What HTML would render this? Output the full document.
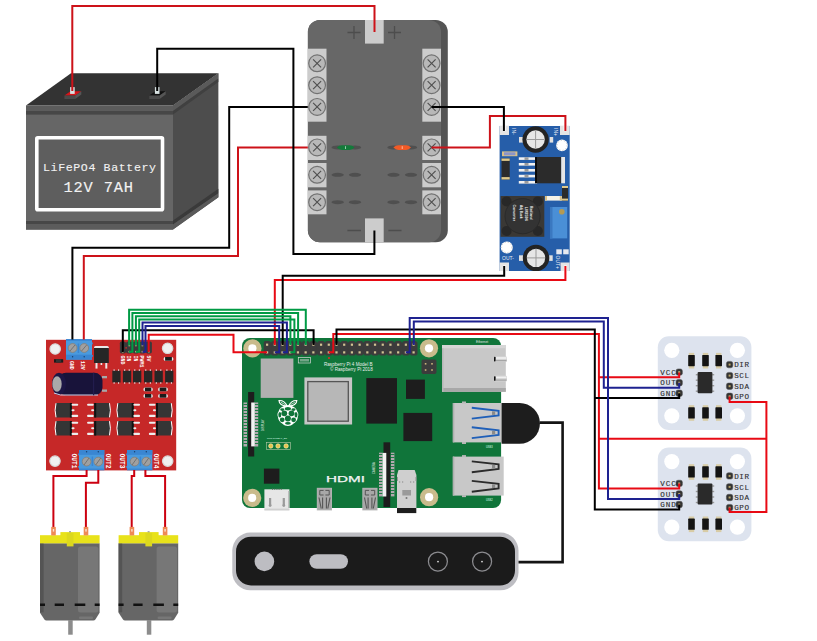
<!DOCTYPE html>
<html><head><meta charset="utf-8"><style>
html,body{margin:0;padding:0;background:#fff;width:817px;height:641px;overflow:hidden}
svg{display:block}
</style></head><body>
<svg width="817" height="641" viewBox="0 0 817 641" font-family="Liberation Sans, sans-serif">
<!-- BATTERY -->
<g id="battery">
<polygon points="26,105.6 71,73.2 218.4,73.2 173,105.6" fill="#333"/>
<polygon points="173,105.6 218.4,73.2 218.4,197.3 173,229.6" fill="#4d4d4d"/>
<polygon points="173,105.6 218.4,73.2 218.4,78.5 173,111" fill="#5a5a5a"/>
<polygon points="173,111 218.4,78.5 218.4,82 173,114.6" fill="#404040"/>
<polygon points="173,220.5 218.4,188.8 218.4,193.2 173,224.6" fill="#3a3a3a"/>
<polygon points="173,224.6 218.4,193.2 218.4,197.3 173,229.6" fill="#5a5a5a"/>
<rect x="26" y="105.6" width="147" height="124" fill="#666"/>
<rect x="26" y="105.6" width="147" height="5.4" fill="#5c5c5c"/>
<rect x="26" y="111" width="147" height="3.6" fill="#474747"/>
<rect x="26" y="221" width="147" height="3" fill="#474747"/>
<rect x="26" y="224" width="147" height="5.6" fill="#5c5c5c"/>
<rect x="36.8" y="137.8" width="125.7" height="71.9" rx="1" fill="#5e5e5e" stroke="#fff" stroke-width="3.6"/>
<text x="43" y="170.6" font-family="Liberation Mono, monospace" font-size="11.6" fill="#f2f2f2" stroke="#f2f2f2" stroke-width="0.1" textLength="113" lengthAdjust="spacing">LiFePO4 Battery</text>
<text x="63.5" y="191.8" font-family="Liberation Mono, monospace" font-size="15.4" fill="#f2f2f2" stroke="#f2f2f2" stroke-width="0.15" textLength="69.5" lengthAdjust="spacing">12V 7AH</text>
<!-- terminals -->
<polygon points="64.4,95.6 70.5,91.2 81.3,91.2 75.2,95.6" fill="#d7141a"/>
<polygon points="64.4,95.6 75.2,95.6 75.2,99 64.4,99" fill="#4a4a4a"/>
<polygon points="75.2,95.6 81.3,91.2 81.3,94.6 75.2,99" fill="#555"/>
<rect x="70.1" y="87.1" width="4.6" height="6.8" fill="#d8e2e2"/>
<polygon points="149.3,95.6 155.4,91.2 165.7,91.2 159.6,95.6" fill="#111"/>
<polygon points="149.3,95.6 159.6,95.6 159.6,99 149.3,99" fill="#4a4a4a"/>
<polygon points="159.6,95.6 165.7,91.2 165.7,94.6 159.6,99" fill="#555"/>
<rect x="154.9" y="87.1" width="4.6" height="6.8" fill="#d8e2e2"/>
</g>

<!-- FUSE BOX -->
<g id="fuse">
<rect x="307.9" y="20" width="139.9" height="222.2" rx="12" fill="#545454"/>
<rect x="307.9" y="20" width="133.1" height="222.2" rx="12" fill="#676767"/>
<rect x="365" y="20" width="18.7" height="23.6" fill="#ccc"/>
<rect x="365" y="218.4" width="18.7" height="23.9" fill="#ccc"/>
<path d="M347.5,32.5h13M354,26v13M388,32.5h13M394.5,26v13M347.4,230.5h13.6M388.4,230.5h13.1" stroke="#4d4d4d" stroke-width="1.3" fill="none"/>
<rect x="307.8" y="48.7" width="18.7" height="73" fill="#ccc"/>
<rect x="422.3" y="48.7" width="18.7" height="73" fill="#ccc"/>
<rect x="307.8" y="135.8" width="18.7" height="24.2" fill="#ccc"/>
<rect x="307.8" y="163" width="18.7" height="24.3" fill="#ccc"/>
<rect x="307.8" y="190.4" width="18.7" height="23.9" fill="#ccc"/>
<rect x="422.3" y="135.8" width="18.7" height="24.2" fill="#ccc"/>
<rect x="422.3" y="163" width="18.7" height="24.3" fill="#ccc"/>
<rect x="422.3" y="190.4" width="18.7" height="23.9" fill="#ccc"/>
<g fill="#b8b8b8" stroke="#727272" stroke-width="1.2">
<circle cx="317.1" cy="63.3" r="8.4"/><circle cx="317.1" cy="85.2" r="8.4"/><circle cx="317.1" cy="106.9" r="8.4"/>
<circle cx="317.1" cy="147.4" r="8.4"/><circle cx="317.1" cy="174.8" r="8.4"/><circle cx="317.1" cy="202.2" r="8.4"/>
<circle cx="431.6" cy="63.3" r="8.4"/><circle cx="431.6" cy="85.2" r="8.4"/><circle cx="431.6" cy="106.9" r="8.4"/>
<circle cx="431.6" cy="147.4" r="8.4"/><circle cx="431.6" cy="174.8" r="8.4"/><circle cx="431.6" cy="202.2" r="8.4"/>
</g>
<path id="xs" d="M313.1,59.3l8,8M321.1,59.3l-8,8M313.1,81.2l8,8M321.1,81.2l-8,8M313.1,102.9l8,8M321.1,102.9l-8,8M313.1,143.4l8,8M321.1,143.4l-8,8M313.1,170.8l8,8M321.1,170.8l-8,8M313.1,198.2l8,8M321.1,198.2l-8,8M427.6,59.3l8,8M435.6,59.3l-8,8M427.6,81.2l8,8M435.6,81.2l-8,8M427.6,102.9l8,8M435.6,102.9l-8,8M427.6,143.4l8,8M435.6,143.4l-8,8M427.6,170.8l8,8M435.6,170.8l-8,8M427.6,198.2l8,8M435.6,198.2l-8,8" stroke="#505050" stroke-width="1.15" fill="none"/>
<g fill="#4f4f4f">
<ellipse cx="337.7" cy="147.4" rx="6.2" ry="2"/><ellipse cx="355" cy="147.4" rx="6.2" ry="2"/><ellipse cx="393.5" cy="147.4" rx="6.2" ry="2"/><ellipse cx="411" cy="147.4" rx="6.2" ry="2"/>
<ellipse cx="337.7" cy="174.8" rx="6.2" ry="2"/><ellipse cx="355" cy="174.8" rx="6.2" ry="2"/><ellipse cx="393.5" cy="174.8" rx="6.2" ry="2"/><ellipse cx="411" cy="174.8" rx="6.2" ry="2"/>
<ellipse cx="337.7" cy="202.2" rx="6.2" ry="2"/><ellipse cx="355" cy="202.2" rx="6.2" ry="2"/><ellipse cx="393.5" cy="202.2" rx="6.2" ry="2"/><ellipse cx="411" cy="202.2" rx="6.2" ry="2"/>
</g>
<path d="M336.8,147.6Q339,145.2 342,145.2H349.5Q352.5,145.2 354.6,147.6Q352.5,150 349.5,150H342Q339,150 336.8,147.6Z" fill="#137a3a"/><rect x="345.3" y="146.2" width="0.7" height="2.8" fill="#cfe8d8"/>
<path d="M393.4,147.6Q395.6,145.2 398.6,145.2H406Q409,145.2 411,147.6Q409,150 406,150H398.6Q395.6,150 393.4,147.6Z" fill="#f25a26"/><rect x="401.8" y="146.2" width="0.7" height="2.8" fill="#fde0d0"/>
</g>
<!--BUCK-->
<g id="buck">
<rect x="499.6" y="126" width="70.1" height="145" fill="#265ea9"/>
<rect x="499.6" y="125.7" width="9.4" height="9.3" fill="#e4e4e4"/>
<rect x="560" y="125.7" width="9.7" height="9.3" fill="#e4e4e4"/>
<rect x="499.6" y="262.5" width="9.4" height="8.5" fill="#e4e4e4"/>
<rect x="560.6" y="262.5" width="9.1" height="8.5" fill="#e4e4e4"/>
<rect x="502.5" y="125.7" width="3.2" height="5.5" fill="#fff"/>
<rect x="563.6" y="125.7" width="3.2" height="5.5" fill="#fff"/>
<rect x="503" y="265.5" width="3" height="5.5" fill="#fff"/>
<rect x="563.9" y="265.5" width="3" height="5.5" fill="#fff"/>
<!-- top terminal -->
<rect x="519" y="137" width="4" height="5.6" fill="#e0e0e0"/>
<rect x="549.7" y="137" width="3.5" height="5.6" fill="#e0e0e0"/>
<circle cx="535.6" cy="139.5" r="13.2" fill="#232323"/>
<circle cx="535.6" cy="139.5" r="9.2" fill="#e6e6e6"/>
<path d="M535.6,130.5v18M526.6,139.5h18" stroke="#9a9a9a" stroke-width="1"/>
<circle cx="562" cy="145.4" r="5.8" fill="#fff"/><circle cx="562" cy="145.4" r="5" fill="none" stroke="#b8b8b8" stroke-width="0.9" stroke-dasharray="1 2.1"/>
<!-- resistor -->
<rect x="502" y="151.4" width="15.4" height="4.8" fill="#d8c089"/>
<rect x="504" y="152.3" width="11.4" height="3" fill="#8b95c9"/>
<!-- cap -->
<rect x="501.5" y="158.5" width="8.2" height="21" fill="#2b2b2b"/>
<rect x="501.5" y="158.5" width="8.2" height="2.4" fill="#e0c98a"/>
<rect x="501.5" y="177.1" width="8.2" height="2.4" fill="#e0c98a"/>
<!-- LM2596 -->
<g fill="#f2f2f2">
<rect x="518.8" y="157.3" width="18.5" height="2.6"/><rect x="518.8" y="163" width="18.5" height="2.6"/><rect x="518.8" y="169" width="18.5" height="2.6"/><rect x="518.8" y="174.8" width="18.5" height="2.6"/><rect x="518.8" y="181" width="18.5" height="2.6"/>
</g>
<g fill="#9a9a9a">
<rect x="524.5" y="157.3" width="4" height="2.6"/><rect x="524.5" y="163" width="4" height="2.6"/><rect x="524.5" y="169" width="4" height="2.6"/><rect x="524.5" y="174.8" width="4" height="2.6"/><rect x="524.5" y="181" width="4" height="2.6"/>
</g>
<rect x="535" y="157" width="2.5" height="26.3" fill="#0a0a0a"/>
<rect x="537" y="157" width="24.5" height="26.3" fill="#2b2b2b"/>
<rect x="561.2" y="157" width="3.8" height="26.3" fill="#e6e6e6"/>
<!-- small parts -->
<rect x="562" y="186" width="6" height="14.6" fill="#2b2b2b"/>
<rect x="562" y="186" width="6" height="2" fill="#e0c98a"/>
<rect x="562" y="198.6" width="6" height="2" fill="#e0c98a"/>
<rect x="545" y="196" width="16.8" height="4.6" fill="#f5f2e6"/>
<rect x="545" y="196" width="2" height="4.6" fill="#d8c089"/>
<rect x="559.8" y="196" width="2" height="4.6" fill="#d8c089"/>
<!-- inductor -->
<rect x="500.6" y="196" width="43.7" height="40.8" fill="#3a3835"/>
<g fill="#282828"><circle cx="506.6" cy="201.4" r="5"/><circle cx="537.8" cy="201.4" r="5"/><circle cx="506.6" cy="231" r="5"/><circle cx="537.8" cy="231" r="5"/></g>
<circle cx="522.6" cy="216.2" r="17.6" fill="#333" stroke="#2a2a2a" stroke-width="1"/>
<g font-size="4" font-weight="bold" fill="#f0f0f0">
<text transform="translate(530.4,206) rotate(90)" textLength="13.5" lengthAdjust="spacingAndGlyphs">Redland</text>
<text transform="translate(524.9,206.8) rotate(90)" textLength="14" lengthAdjust="spacingAndGlyphs">LM2596</text>
<text transform="translate(519.5,204.9) rotate(90)" textLength="13.6" lengthAdjust="spacingAndGlyphs">Adj Buck</text>
<text transform="translate(512.8,204.5) rotate(90)" textLength="16.5" lengthAdjust="spacingAndGlyphs">Converter</text>
</g>
<!-- pot -->
<rect x="550" y="207" width="17.2" height="31.4" fill="#4a8fd6"/>
<rect x="550" y="207" width="2.5" height="31.4" fill="#3a78c0"/>
<circle cx="561.8" cy="211.8" r="2.8" fill="#b59a52"/>
<!-- bottom -->
<circle cx="506.8" cy="247.4" r="6" fill="#fff"/><circle cx="506.8" cy="247.4" r="5.2" fill="none" stroke="#b8b8b8" stroke-width="0.9" stroke-dasharray="1 2.1"/>
<rect x="556.3" y="249.3" width="5.5" height="5" fill="#e6e9f0"/>
<rect x="563.2" y="249.3" width="5.5" height="5" fill="#e6e9f0"/>
<rect x="519" y="255.3" width="4" height="5.6" fill="#e0e0e0"/>
<rect x="549.2" y="255.3" width="3.5" height="5.6" fill="#e0e0e0"/>
<circle cx="536" cy="257.9" r="13.2" fill="#232323"/>
<circle cx="536" cy="257.9" r="9.2" fill="#e6e6e6"/>
<path d="M536,248.9v18M527,257.9h18" stroke="#9a9a9a" stroke-width="1"/>
<text x="502" y="260" font-size="5" fill="#e8ecf5">OUT-</text>
<text transform="translate(556,255.5) rotate(90)" font-size="5" fill="#e8ecf5">OUT+</text>
<text transform="translate(512,128) rotate(90)" font-size="5" fill="#e8ecf5">IN-</text>
<text transform="translate(554,128) rotate(90)" font-size="5" fill="#e8ecf5">IN+</text>
</g>
<!--DRIVER-->
<g id="driver">
<rect x="46" y="339.8" width="130.2" height="130.6" fill="#c62828"/>
<g fill="#f0f0f0" stroke="#d9d9d9" stroke-width="1.2">
<circle cx="55.2" cy="349" r="5.2"/><circle cx="167.6" cy="348.3" r="5.2"/><circle cx="55" cy="461.1" r="5.2"/><circle cx="167.7" cy="461.1" r="5.2"/>
</g>
<!-- top terminal -->
<rect x="66" y="339.2" width="26" height="20.4" fill="#4a9ade"/>
<rect x="66" y="339.2" width="26" height="1.6" fill="#3a86d2"/>
<rect x="66" y="354.7" width="26" height="4.9" fill="#3a86d2"/>
<rect x="92" y="342.5" width="0.9" height="1.8" fill="#3a86d2"/><rect x="92" y="355" width="0.9" height="1.8" fill="#3a86d2"/>
<rect x="77.7" y="343.5" width="1.4" height="9.5" fill="#3a86d2"/>
<circle cx="72.6" cy="348" r="4.4" fill="#a0a0a0" stroke="#8a7a6a" stroke-width="0.7"/>
<circle cx="84.2" cy="348" r="4.4" fill="#a0a0a0" stroke="#8a7a6a" stroke-width="0.7"/>
<path d="M70,351l5,-6M81.6,351l5,-6" stroke="#666" stroke-width="0.8"/>
<circle cx="72.6" cy="356.8" r="0.7" fill="#173f6b"/><circle cx="84.2" cy="356.8" r="0.7" fill="#173f6b"/>
<text transform="translate(69.8,361) rotate(90)" font-size="4.8" font-weight="bold" fill="#fff" font-family="Liberation Mono, monospace">GND</text>
<text transform="translate(81.4,361) rotate(90)" font-size="4.8" font-weight="bold" fill="#fff" font-family="Liberation Mono, monospace">12V</text>
<rect x="54" y="359.2" width="9.2" height="3.4" fill="#1a1a1a"/>
<rect x="56" y="359.2" width="5.2" height="3.4" fill="#333"/>
<!-- regulator -->
<rect x="94" y="346" width="14.8" height="3" rx="1.5" fill="#e8e8e8"/>
<rect x="94" y="348" width="14.8" height="15" fill="#262626"/>
<rect x="95.5" y="363" width="2" height="5.6" fill="#e8e8e8"/>
<rect x="105.3" y="363" width="2" height="5.6" fill="#e8e8e8"/>
<rect x="100.6" y="363" width="1.6" height="2" fill="#e8e8e8"/>
<!-- capacitor -->
<rect x="102" y="376" width="5" height="2.3" fill="#a8a8a8"/>
<rect x="102" y="389.5" width="5" height="2.3" fill="#a8a8a8"/>
<rect x="58" y="372.8" width="44.5" height="22.5" rx="8" fill="#18133a"/>
<ellipse cx="59" cy="384" rx="7" ry="11.2" fill="#1c1645"/>
<ellipse cx="57" cy="384" rx="4.7" ry="7.8" fill="#aaa"/>
<path d="M54,393q6,3 14,2h30" stroke="#c9d3ea" stroke-width="1" fill="none"/>
<rect x="93" y="372.8" width="1.2" height="22.5" fill="#221c4d"/>
<!-- six ICs -->
<rect x="112.3" y="370.6" width="8.3" height="11.9" fill="#262626"/><g fill="#e6e6e6"><rect x="113.6" y="369.3" width="1" height="1.6"/><rect x="118.1" y="369.3" width="1" height="1.6"/><rect x="113.6" y="382.2" width="1" height="1.6"/><rect x="118.1" y="382.2" width="1" height="1.6"/></g>
<rect x="122.9" y="370.6" width="8.3" height="11.9" fill="#262626"/><g fill="#e6e6e6"><rect x="124.2" y="369.3" width="1" height="1.6"/><rect x="128.70000000000002" y="369.3" width="1" height="1.6"/><rect x="124.2" y="382.2" width="1" height="1.6"/><rect x="128.70000000000002" y="382.2" width="1" height="1.6"/></g>
<rect x="133" y="370.6" width="8.3" height="11.9" fill="#262626"/><g fill="#e6e6e6"><rect x="134.3" y="369.3" width="1" height="1.6"/><rect x="138.8" y="369.3" width="1" height="1.6"/><rect x="134.3" y="382.2" width="1" height="1.6"/><rect x="138.8" y="382.2" width="1" height="1.6"/></g>
<rect x="144" y="370.6" width="8.3" height="11.9" fill="#262626"/><g fill="#e6e6e6"><rect x="145.3" y="369.3" width="1" height="1.6"/><rect x="149.8" y="369.3" width="1" height="1.6"/><rect x="145.3" y="382.2" width="1" height="1.6"/><rect x="149.8" y="382.2" width="1" height="1.6"/></g>
<rect x="154.5" y="370.6" width="8.3" height="11.9" fill="#262626"/><g fill="#e6e6e6"><rect x="155.8" y="369.3" width="1" height="1.6"/><rect x="160.3" y="369.3" width="1" height="1.6"/><rect x="155.8" y="382.2" width="1" height="1.6"/><rect x="160.3" y="382.2" width="1" height="1.6"/></g>
<rect x="165.1" y="370.6" width="8.3" height="11.9" fill="#262626"/><g fill="#e6e6e6"><rect x="166.4" y="369.3" width="1" height="1.6"/><rect x="170.9" y="369.3" width="1" height="1.6"/><rect x="166.4" y="382.2" width="1" height="1.6"/><rect x="170.9" y="382.2" width="1" height="1.6"/></g>
<rect x="143.5" y="387.6" width="9.2" height="3.7" rx="1.5" fill="#eee"/><rect x="144.9" y="387.6" width="6.3999999999999995" height="3.7" fill="#1a1a1a"/>
<rect x="158.2" y="387.6" width="9.6" height="3.7" rx="1.5" fill="#eee"/><rect x="159.6" y="387.6" width="6.8" height="3.7" fill="#1a1a1a"/>
<rect x="143.5" y="394" width="9.2" height="3.7" rx="1.5" fill="#eee"/><rect x="144.9" y="394" width="6.3999999999999995" height="3.7" fill="#1a1a1a"/>
<rect x="158.2" y="394" width="9.6" height="3.7" rx="1.5" fill="#eee"/><rect x="159.6" y="394" width="6.8" height="3.7" fill="#1a1a1a"/>
<rect x="163.7" y="357" width="9.6" height="3.7" rx="1.5" fill="#eee"/><rect x="165.1" y="357" width="6.8" height="3.7" fill="#1a1a1a"/>
<!-- header -->
<rect x="120.5" y="342.6" width="30.8" height="9.8" fill="#3a3a3a"/><g fill="#3a3a3a"><rect x="119.85" y="341.6" width="5.9" height="11.8" rx="1.6"/><rect x="126.35" y="341.6" width="5.9" height="11.8" rx="1.6"/><rect x="132.95" y="341.6" width="5.9" height="11.8" rx="1.6"/><rect x="139.45" y="341.6" width="5.9" height="11.8" rx="1.6"/><rect x="145.95" y="341.6" width="5.9" height="11.8" rx="1.6"/></g>
<g fill="#c7b27a"><rect x="128.50" y="344.7" width="1.6" height="1.6"/><rect x="135.10" y="344.7" width="1.6" height="1.6"/><rect x="141.60" y="344.7" width="1.6" height="1.6"/><rect x="122.00" y="350.9" width="1.6" height="1.6"/><rect x="128.50" y="350.9" width="1.6" height="1.6"/><rect x="135.10" y="350.9" width="1.6" height="1.6"/><rect x="141.60" y="350.9" width="1.6" height="1.6"/><rect x="148.10" y="350.9" width="1.6" height="1.6"/></g><circle cx="126.1" cy="347.9" r="0.8" fill="#d22"/>
<g font-size="4.9" font-weight="bold" fill="#fff" font-family="Liberation Mono, monospace">
<text transform="translate(120.6,355.6) rotate(90)">GND</text>
<text transform="translate(127.2,355.6) rotate(90)">IN</text>
<text transform="translate(133.7,355.6) rotate(90)">IN</text>
<text transform="translate(140.3,355.6) rotate(90)">PWM1</text>
<text transform="translate(146.5,355.6) rotate(90)">5V</text>
</g>
<!-- mosfets -->
<g id="mos">
<path d="M56,403h15.9v14.5h-15.9q-1.6-7.25 0-14.5z" fill="#353535"/>
<path d="M56,403.2q-1.8,7 0,14.1" stroke="#fff" stroke-width="1" fill="none"/>
<rect x="69.9" y="403" width="2" height="14.5" fill="#111"/>
<g stroke="#eee" stroke-width="2.1" stroke-linecap="round"><path d="M72.6,404.8h4.6M72.6,410.3h0.9M72.6,415.9h4.6"/></g>
<path d="M94.2,403h15.3q1.6,7.25 0,14.5h-15.3z" fill="#353535"/>
<path d="M109.5,403.2q1.8,7 0,14.1" stroke="#fff" stroke-width="1" fill="none"/>
<rect x="94.2" y="403" width="2" height="14.5" fill="#111"/>
<g stroke="#eee" stroke-width="2.1" stroke-linecap="round"><path d="M88.1,404.8h4.6M92.2,410.3h0.9M88.1,415.9h4.6"/></g>
</g>
<use href="#mos" transform="translate(0,18)"/>
<use href="#mos" transform="translate(61.8,0)"/>
<use href="#mos" transform="translate(61.8,18)"/>
<!-- bottom terminals -->
<g id="bterm">
<rect x="79" y="450" width="25.3" height="20.2" fill="#4a9ade"/>
<rect x="79" y="450" width="25.3" height="4.8" fill="#3a86d2"/>
<rect x="79" y="468.6" width="25.3" height="1.6" fill="#3a86d2"/>
<rect x="78.1" y="453.5" width="0.9" height="1.8" fill="#3a86d2"/><rect x="78.1" y="466" width="0.9" height="1.8" fill="#3a86d2"/>
<rect x="91.7" y="456.5" width="1.4" height="9.5" fill="#3a86d2"/>
<circle cx="86.6" cy="461.6" r="4.4" fill="#a0a0a0" stroke="#8a7a6a" stroke-width="0.7"/>
<circle cx="98.3" cy="461.6" r="4.4" fill="#a0a0a0" stroke="#8a7a6a" stroke-width="0.7"/>
<path d="M84,465l5,-7M95.7,465l5,-7" stroke="#666" stroke-width="0.8"/>
<circle cx="86.6" cy="451.8" r="0.7" fill="#173f6b"/><circle cx="98.3" cy="451.8" r="0.7" fill="#173f6b"/>
</g>
<use href="#bterm" transform="translate(48,0)"/>
<g font-size="6.4" font-weight="bold" fill="#fff" font-family="Liberation Mono, monospace">
<text transform="translate(72,453.5) rotate(90)" textLength="15" lengthAdjust="spacingAndGlyphs">OUT1</text>
<text transform="translate(105.7,453.5) rotate(90)" textLength="15" lengthAdjust="spacingAndGlyphs">OUT2</text>
<text transform="translate(120,453.5) rotate(90)" textLength="15" lengthAdjust="spacingAndGlyphs">OUT3</text>
<text transform="translate(153.7,453.5) rotate(90)" textLength="15" lengthAdjust="spacingAndGlyphs">OUT4</text>
</g>
</g>
<!--PI-->
<g id="pi">
<rect x="242" y="338" width="259.1" height="170" rx="8" fill="#10753a"/>
<!-- ethernet -->
<rect x="442" y="345" width="63.8" height="46.8" fill="#c8c8c8"/>
<rect x="442" y="388" width="63.8" height="3.8" fill="#a8a8a8"/>
<rect x="442" y="345" width="1.5" height="46.8" fill="#b8b8b8"/>
<rect x="442" y="345" width="63.8" height="3.2" fill="#d6d6d6"/>
<g><rect x="494.2" y="356.2" width="12.8" height="5.8" rx="1.5" fill="#d4d4d4"/><rect x="496" y="357.2" width="10.5" height="1.6" fill="#f0f0f0"/><rect x="496" y="360.2" width="10.5" height="1" fill="#9a9a9a"/><rect x="494" y="356.8" width="1.6" height="4.6" rx="0.6" fill="#111"/></g>
<g><rect x="494.2" y="375.6" width="12.8" height="5.8" rx="1.5" fill="#d4d4d4"/><rect x="496" y="376.6" width="10.5" height="1.6" fill="#f0f0f0"/><rect x="496" y="379.6" width="10.5" height="1" fill="#9a9a9a"/><rect x="494" y="376.2" width="1.6" height="4.6" rx="0.6" fill="#111"/></g>
<text x="476" y="342.5" font-size="3.2" fill="#e8e8e8">Ethernet</text>
<!-- holes -->
<g fill="#c9bb8c">
<circle cx="252.4" cy="348.4" r="9.15"/><circle cx="429" cy="348.3" r="9.1"/><circle cx="252.2" cy="497.9" r="9.1"/><circle cx="429.1" cy="497.2" r="9.1"/>
</g>
<g fill="#fff">
<circle cx="252.4" cy="348.4" r="4.1"/><circle cx="429" cy="348.3" r="4.1"/><circle cx="252.2" cy="497.9" r="4.1"/><circle cx="429.1" cy="497.2" r="4.1"/>
</g>
<!-- GPIO header -->
<rect x="263.9" y="342.4" width="153.6" height="12" fill="#3c3c3c"/><g fill="#3c3c3c"><rect x="263.75" y="341.1" width="6.7" height="14.5" rx="1.6"/><rect x="271.46" y="341.1" width="6.7" height="14.5" rx="1.6"/><rect x="279.17" y="341.1" width="6.7" height="14.5" rx="1.6"/><rect x="286.88" y="341.1" width="6.7" height="14.5" rx="1.6"/><rect x="294.59" y="341.1" width="6.7" height="14.5" rx="1.6"/><rect x="302.30" y="341.1" width="6.7" height="14.5" rx="1.6"/><rect x="310.01" y="341.1" width="6.7" height="14.5" rx="1.6"/><rect x="317.72" y="341.1" width="6.7" height="14.5" rx="1.6"/><rect x="325.43" y="341.1" width="6.7" height="14.5" rx="1.6"/><rect x="333.14" y="341.1" width="6.7" height="14.5" rx="1.6"/><rect x="340.85" y="341.1" width="6.7" height="14.5" rx="1.6"/><rect x="348.56" y="341.1" width="6.7" height="14.5" rx="1.6"/><rect x="356.27" y="341.1" width="6.7" height="14.5" rx="1.6"/><rect x="363.98" y="341.1" width="6.7" height="14.5" rx="1.6"/><rect x="371.69" y="341.1" width="6.7" height="14.5" rx="1.6"/><rect x="379.40" y="341.1" width="6.7" height="14.5" rx="1.6"/><rect x="387.11" y="341.1" width="6.7" height="14.5" rx="1.6"/><rect x="394.82" y="341.1" width="6.7" height="14.5" rx="1.6"/><rect x="402.53" y="341.1" width="6.7" height="14.5" rx="1.6"/><rect x="410.24" y="341.1" width="6.7" height="14.5" rx="1.6"/></g>
<g id="pinrow" fill="#d2c493"><rect x="266.00" y="343.6" width="2.2" height="2.2"/><rect x="273.71" y="343.6" width="2.2" height="2.2"/><rect x="281.42" y="343.6" width="2.2" height="2.2"/><rect x="289.13" y="343.6" width="2.2" height="2.2"/><rect x="296.84" y="343.6" width="2.2" height="2.2"/><rect x="304.55" y="343.6" width="2.2" height="2.2"/><rect x="312.26" y="343.6" width="2.2" height="2.2"/><rect x="319.97" y="343.6" width="2.2" height="2.2"/><rect x="327.68" y="343.6" width="2.2" height="2.2"/><rect x="335.39" y="343.6" width="2.2" height="2.2"/><rect x="343.10" y="343.6" width="2.2" height="2.2"/><rect x="350.81" y="343.6" width="2.2" height="2.2"/><rect x="358.52" y="343.6" width="2.2" height="2.2"/><rect x="366.23" y="343.6" width="2.2" height="2.2"/><rect x="373.94" y="343.6" width="2.2" height="2.2"/><rect x="381.65" y="343.6" width="2.2" height="2.2"/><rect x="389.36" y="343.6" width="2.2" height="2.2"/><rect x="397.07" y="343.6" width="2.2" height="2.2"/><rect x="404.78" y="343.6" width="2.2" height="2.2"/><rect x="412.49" y="343.6" width="2.2" height="2.2"/></g>
<use href="#pinrow" transform="translate(0,7.7)"/>
<rect x="298.3" y="357.5" width="12.3" height="5.5" fill="none" stroke="#d8d8d8" stroke-width="0.7"/>
<rect x="300" y="359" width="9" height="2.5" fill="#d8d8d8" opacity="0.5"/>
<circle cx="329" cy="358" r="1" fill="#e22"/>
<text x="324" y="365.6" font-size="4.6" fill="#e8f0ea">Raspberry Pi 4 Model B</text>
<text x="330" y="370.8" font-size="4.6" fill="#e8f0ea">© Raspberry Pi 2018</text>
<!-- PoE -->
<rect x="421.5" y="359.6" width="15" height="14.4" rx="2" fill="#3c3c3c"/>
<g fill="#c9b47a"><rect x="424.8" y="363" width="1.6" height="1.6"/><rect x="431.2" y="363" width="1.6" height="1.6"/><rect x="424.8" y="369.2" width="1.6" height="1.6"/><rect x="431.2" y="369.2" width="1.6" height="1.6"/></g>
<!-- wifi -->
<rect x="260.7" y="358.5" width="32.7" height="39.4" fill="#b0b0b0"/>
<!-- SoC -->
<rect x="304.4" y="377.4" width="47.7" height="47.1" fill="#c6c6c6"/>
<rect x="307.8" y="381.6" width="40.5" height="39.6" fill="#b7b7b7" stroke="#555" stroke-width="1.3"/>
<!-- RAM + chips -->
<rect x="366.3" y="378.1" width="30.7" height="45.5" fill="#1d1d1d"/>
<rect x="406" y="379.6" width="18.9" height="19.3" fill="#1d1d1d"/>
<rect x="403.4" y="412.9" width="28.8" height="28.2" fill="#1d1d1d"/>
<rect x="263.9" y="468.6" width="15.5" height="15.1" fill="#1d1d1d"/>
<!-- raspberry logo -->
<g fill="none" stroke="#fff" stroke-width="1.2">
<path d="M287,405.8c-1.5-3.5-4.5-5.5-8-5.3c0,3.2 3.2,5.8 8,5.3zM288.8,405.8c1.5-3.5 4.5-5.5 8-5.3c0,3.2-3.2,5.8-8,5.3z"/>
<path d="M281,402.3l4.5,2.5M294.8,402.3l-4.5,2.5" stroke-width="0.7"/>
</g>
<path d="M287.9,405.3c-4,0-8.5,2.5-9.2,6c-1.3,1.2-1.6,3.8-0.7,5.6c0.2,3 2,5.5 4.5,6.8c1.4,1.5 3.5,2.2 5.4,2.2s4-0.7 5.4-2.2c2.5-1.3 4.3-3.8 4.5-6.8c0.9-1.8 0.6-4.4-0.7-5.6c-0.7-3.5-5.2-6-9.2-6z" fill="#fff"/>
<g fill="#10753a">
<ellipse cx="287.9" cy="408.7" rx="3.1" ry="1.7"/>
<ellipse cx="282.3" cy="409.6" rx="2.1" ry="1.3"/><ellipse cx="293.5" cy="409.6" rx="2.1" ry="1.3"/>
<circle cx="284.3" cy="413.3" r="2.9"/><circle cx="291.5" cy="413.3" r="2.9"/>
<ellipse cx="279.8" cy="414.8" rx="1.5" ry="2.8"/><ellipse cx="296" cy="414.8" rx="1.5" ry="2.8"/>
<circle cx="287.9" cy="418.4" r="3"/>
<circle cx="282.2" cy="419.8" r="2.4"/><circle cx="293.6" cy="419.8" r="2.4"/>
<ellipse cx="287.9" cy="423.3" rx="2.9" ry="1.4"/>
</g>
<!-- display connector -->
<g fill="#b3a9b0">
<rect x="243.5" y="402.5" width="3.5" height="44"/><rect x="254.7" y="402.5" width="3.5" height="44"/>
</g>
<g stroke="#10753a" stroke-width="0.9">
<path d="M243.5,404.5h15M243.5,407.5h15M243.5,410.5h15M243.5,413.5h15M243.5,416.5h15M243.5,419.5h15M243.5,422.5h15M243.5,425.5h15M243.5,428.5h15M243.5,431.5h15M243.5,434.5h15M243.5,437.5h15M243.5,440.5h15M243.5,443.5h15"/>
</g>
<rect x="248.1" y="392" width="6.1" height="64.5" fill="#1d1d1d"/>
<rect x="251.2" y="402.5" width="3.6" height="43.9" fill="#f2f2f2"/>
<text transform="translate(263.6,431) rotate(-90)" font-size="2.8" fill="#e6f2ea">DISPLAY</text>
<!-- camera connector -->
<g fill="#b3a9b0">
<rect x="379" y="452.7" width="3.5" height="43.7"/><rect x="390.9" y="452.7" width="3.5" height="43.7"/>
</g>
<g stroke="#10753a" stroke-width="0.9">
<path d="M379,454.5h15.4M379,457.5h15.4M379,460.5h15.4M379,463.5h15.4M379,466.5h15.4M379,469.5h15.4M379,472.5h15.4M379,475.5h15.4M379,478.5h15.4M379,481.5h15.4M379,484.5h15.4M379,487.5h15.4M379,490.5h15.4M379,493.5h15.4"/>
</g>
<rect x="383.5" y="442.3" width="6.7" height="64.7" fill="#1d1d1d"/>
<rect x="382.5" y="452.9" width="3.8" height="43.6" fill="#f2f2f2"/>
<text transform="translate(374.8,474) rotate(-90)" font-size="2.8" fill="#e6f2ea">CAMERA</text>
<!-- run header -->
<rect x="266.3" y="442.3" width="24.3" height="7.1" fill="none" stroke="#b7c9a8" stroke-width="0.6"/>
<g fill="#e6c44a" stroke="#fff3c0" stroke-width="0.6"><circle cx="270.8" cy="446" r="2.2"/><circle cx="278" cy="446" r="2.2"/><circle cx="286.1" cy="446" r="2.2"/></g>
<text x="267" y="439" font-size="2.4" fill="#dfe">RUN   GLOBAL_EN</text>
<!-- HDMI text -->
<text x="326" y="482.1" font-size="9.7" fill="#f4f4f4" stroke="#f4f4f4" stroke-width="0.25" textLength="38.9" lengthAdjust="spacingAndGlyphs">HDMI</text>
<!-- micro usb -->
<rect x="264.4" y="489.3" width="25" height="21.1" fill="#e6e6e6"/>
<rect x="264.4" y="508.6" width="25" height="1.8" fill="#cfcfcf"/>
<rect x="288" y="491" width="1.4" height="17" fill="#bdbdbd"/>
<g fill="#666"><rect x="272" y="488.6" width="1" height="1.2"/><rect x="274.2" y="488.6" width="1" height="1.2"/><rect x="276.4" y="488.6" width="1" height="1.2"/><rect x="278.6" y="488.6" width="1" height="1.2"/><rect x="280.8" y="488.6" width="1" height="1.2"/></g>
<g fill="#9a9a9a"><rect x="269" y="498" width="2.2" height="8"/><rect x="282.7" y="498" width="2.2" height="8"/><circle cx="270.1" cy="505.5" r="1.4"/><circle cx="283.8" cy="505.5" r="1.4"/></g>
<!-- micro hdmi -->
<g id="mhdmi">
<rect x="316.8" y="487.8" width="15.2" height="22.6" fill="#b4b4b4"/>
<rect x="317.6" y="488.6" width="13.6" height="21" fill="#a8a8a8"/>
<path d="M319,497.5l2.2,11M330,497.5l-2.2,11M322.6,497.5v11M326.4,497.5v11" stroke="#555" stroke-width="1.1"/>
<path d="M323.6,490.4h-3.8v4.6h3.8M325.4,490.4h3.8v4.6h-3.8" stroke="#555" stroke-width="1" fill="none"/>
</g>
<use href="#mhdmi" transform="translate(45.5,0)"/>
<!-- audio jack -->
<path d="M398.5,470h16.2l1.7,5v33h-19.4v-33z" fill="#cfcfcf"/>
<g fill="#888"><rect x="397" y="477" width="0.8" height="4"/><rect x="415.6" y="477" width="0.8" height="4"/><rect x="399.5" y="481" width="0.6" height="2"/><rect x="402.5" y="481" width="0.6" height="2"/><rect x="410.5" y="481" width="0.6" height="2"/><rect x="413.5" y="481" width="0.6" height="2"/></g>
<rect x="402.3" y="490" width="8.7" height="5.5" fill="#9a9a9a"/>
<circle cx="406.5" cy="498" r="1" fill="#777"/>
<rect x="397" y="508" width="19.3" height="5.1" fill="#1d1d1d"/>
<!-- USB3 -->
<g id="usb3">
<rect x="452.8" y="403" width="48.8" height="39.4" fill="#c8c8c8"/>
<rect x="452.8" y="403" width="1.5" height="39.4" fill="#b0b0b0"/>
<rect x="462" y="401.5" width="4" height="2" fill="#b8b8b8"/><rect x="462" y="442" width="4" height="2" fill="#b8b8b8"/>
<path d="M471.8,407.8L498.6,410.8V415.4L471.8,418.6M471.8,427.3L498.6,430.3V434.9L471.8,438.1" stroke="#1f5fb8" stroke-width="1.9" fill="none"/>
<rect x="492" y="411.3" width="3.2" height="3.6" fill="#8a8a8a"/><rect x="492" y="430.8" width="3.2" height="3.6" fill="#8a8a8a"/>
</g>
<g transform="translate(0,53.6)">
<rect x="452.8" y="403" width="50.9" height="39" fill="#c8c8c8"/>
<rect x="452.8" y="403" width="1.5" height="39" fill="#b0b0b0"/>
<rect x="462" y="401.5" width="4" height="2" fill="#b8b8b8"/><rect x="462" y="441.5" width="4" height="2" fill="#b8b8b8"/>
<path d="M471.8,407.8L498.6,410.8V415.4L471.8,418.6M471.8,427.3L498.6,430.3V434.9L471.8,438.1" stroke="#2b2b2b" stroke-width="1.9" fill="none"/>
<rect x="492" y="411.3" width="3.2" height="3.6" fill="#8a8a8a"/><rect x="492" y="430.8" width="3.2" height="3.6" fill="#8a8a8a"/>
</g>
<text x="486" y="447.5" font-size="2.6" fill="#dfe">USB3</text>
<text x="486" y="501" font-size="2.6" fill="#dfe">USB2</text>
</g>
<!-- webcam dome -->
<path d="M501.6,403h18a20.35,20.35 0 0 1 0,40.7h-18z" fill="#1d1d1d"/>
<!--CAMERA-->
<g id="realsense">
<rect x="232.3" y="532.6" width="286.2" height="57.7" rx="18" fill="#bdbdc2"/>
<rect x="236" y="536.7" width="279" height="48.8" rx="15" fill="#1b1b1b"/>
<circle cx="264.4" cy="561.4" r="9.8" fill="#bdbdc2"/>
<rect x="309.4" y="554.2" width="38.6" height="14.6" rx="7.3" fill="#bdbdc2"/>
<g fill="none" stroke="#8c8c90" stroke-width="1.25"><circle cx="437.9" cy="561.5" r="9.5"/><circle cx="482.1" cy="561.5" r="9.5"/></g>
<g fill="#ddd"><circle cx="438" cy="561.6" r="0.9"/><circle cx="482" cy="561.6" r="0.9"/></g>
</g>
<!--SENSORS-->
<g id="sensor">
<rect x="657.8" y="336.2" width="93.6" height="93.7" rx="11" fill="#dde3ee"/>
<g fill="#fff"><circle cx="671.8" cy="350.3" r="7.6"/><circle cx="737.4" cy="350.3" r="7.6"/><circle cx="671.8" cy="415.8" r="7.6"/><circle cx="737.4" cy="415.8" r="7.6"/></g>
<rect x="688.8000000000001" y="352.9" width="5.4" height="15.600000000000023" fill="#d8cca6"/><rect x="688.2" y="355" width="6.6" height="11.199999999999989" rx="0.6" fill="#141414"/>
<rect x="688.8000000000001" y="405.2" width="5.4" height="15.600000000000023" fill="#d8cca6"/><rect x="688.2" y="407.3" width="6.6" height="11.199999999999989" rx="0.6" fill="#141414"/>
<rect x="702.8000000000001" y="352.9" width="5.4" height="15.600000000000023" fill="#d8cca6"/><rect x="702.2" y="355" width="6.6" height="11.199999999999989" rx="0.6" fill="#141414"/>
<rect x="702.8000000000001" y="405.2" width="5.4" height="15.600000000000023" fill="#d8cca6"/><rect x="702.2" y="407.3" width="6.6" height="11.199999999999989" rx="0.6" fill="#141414"/>
<rect x="716.0" y="352.9" width="5.4" height="15.600000000000023" fill="#d8cca6"/><rect x="715.4" y="355" width="6.6" height="11.199999999999989" rx="0.6" fill="#141414"/>
<rect x="716.0" y="405.2" width="5.4" height="15.600000000000023" fill="#d8cca6"/><rect x="715.4" y="407.3" width="6.6" height="11.199999999999989" rx="0.6" fill="#141414"/>
<g fill="#999"><rect x="695.8" y="374" width="2" height="1.4"/><rect x="695.8" y="379.5" width="2" height="1.4"/><rect x="695.8" y="385" width="2" height="1.4"/><rect x="695.8" y="390.5" width="2" height="1.4"/>
<rect x="712.2" y="374" width="2" height="1.4"/><rect x="712.2" y="379.5" width="2" height="1.4"/><rect x="712.2" y="385" width="2" height="1.4"/><rect x="712.2" y="390.5" width="2" height="1.4"/></g>
<rect x="697.6" y="372.1" width="14.8" height="21.1" rx="1" fill="#2a2a2a"/>
<g fill="#333" stroke="#555" stroke-width="0.5">
<rect x="676" y="368.9" width="6.4" height="6.4" rx="2"/><rect x="676" y="379.5" width="6.4" height="6.4" rx="2"/><rect x="676" y="390" width="6.4" height="6.4" rx="2"/>
<rect x="726.4" y="361.4" width="6.4" height="6.4" rx="2"/><rect x="726.4" y="372.4" width="6.4" height="6.4" rx="2"/><rect x="726.4" y="383" width="6.4" height="6.4" rx="2"/><rect x="726.4" y="393.1" width="6.4" height="6.4" rx="2"/>
</g>
<g fill="#b8a466">
<rect x="678.2" y="371.1" width="2" height="2"/><rect x="678.2" y="381.7" width="2" height="2"/><rect x="678.2" y="392.2" width="2" height="2"/>
<rect x="728.6" y="363.6" width="2" height="2"/><rect x="728.6" y="374.6" width="2" height="2"/><rect x="728.6" y="385.2" width="2" height="2"/><rect x="728.6" y="395.3" width="2" height="2"/>
</g>
<g font-family="Liberation Mono, monospace" font-size="7.6" fill="#2e2e2e" stroke="#2e2e2e" stroke-width="0.12">
<text x="660.3" y="374.8" textLength="15.4" lengthAdjust="spacing">VCC</text>
<text x="660.3" y="385.4" textLength="15.4" lengthAdjust="spacing">OUT</text>
<text x="660.3" y="395.9" textLength="15.4" lengthAdjust="spacing">GND</text>
<text x="734.2" y="367.3" textLength="14.8" lengthAdjust="spacing">DIR</text>
<text x="734.2" y="378.3" textLength="14.8" lengthAdjust="spacing">SCL</text>
<text x="734.2" y="388.9" textLength="14.8" lengthAdjust="spacing">SDA</text>
<text x="734.2" y="399" textLength="14.8" lengthAdjust="spacing">GPO</text>
</g>
</g>
<use href="#sensor" transform="translate(0,111.3)"/>
<!--MOTORS-->
<g id="motor">
<path d="M40,543.3h59.6v69.5l-4.2,6.8q-0.8,0.9-2,0.9h-47q-1.2,0-2-0.9l-4.4-6.8z" fill="#666"/>
<rect x="40" y="543.3" width="3.6" height="69" fill="#545454"/>
<rect x="78" y="546.5" width="20.4" height="66" rx="2.5" fill="#777"/>
<rect x="79" y="616.5" width="14" height="2.6" rx="1" fill="#777"/>
<rect x="40" y="535.2" width="59.6" height="8.1" fill="#e8e21a"/>
<rect x="60.4" y="532.1" width="19.6" height="4" fill="#e8e21a"/>
<rect x="66.8" y="533" width="6.7" height="13.4" fill="#dcd81e"/>
<rect x="69" y="531.2" width="2" height="1.2" fill="#999"/>
<path d="M40,604.7h5M54.7,604.7h9.3M74.7,604.7h10.6M94.7,604.7h4.9" stroke="#111" stroke-width="2.4"/>
<rect x="68.2" y="620" width="4.5" height="14.7" fill="#8c8c8c"/>
</g>
<use href="#motor" transform="translate(78.6,0)"/>
<!--SENSORS-->
<!--MOTORS-->
<!--WIRES-->
<g fill="none" stroke-width="2" stroke-linejoin="miter" stroke-linecap="butt">
<g stroke="#cd1219">
<polyline points="72.3,91 72.3,5.9 374.5,5.9 374.5,31.9"/>
<polyline points="307.8,147.4 238,147.4 238,256 83.8,256 83.8,339.5"/>
<polyline points="431.6,147.4 489.9,147.4 489.9,116 565.4,116 565.4,131"/>
</g>
<g stroke="#cc0010">
<polyline points="53.4,528 53.4,475.9 86.6,475.9 86.6,470"/>
<polyline points="85.9,528 85.9,482.8 98.3,482.8 98.3,470"/>
<polyline points="131.7,528 131.7,475.9 134.2,475.9 134.2,470"/>
<polyline points="165.1,528 165.1,475.9 145.4,475.9 145.4,470"/>
</g>
<g stroke="#e80a14">
<polyline points="565.4,266 565.4,280.1 274.8,280.1 274.8,345"/>
<polyline points="148.7,352 148.7,334.8 233.5,334.8 233.5,352.3 267,352.3"/>
<polyline points="328.7,352.3 333.3,352.3 333.3,334 598.9,334 598.9,488.6 679.2,488.6 679.2,483.6"/>
<polyline points="598.9,377.3 679.2,377.3 679.2,372.5"/>
<polyline points="599,438.8 766.4,438.8"/>
<polyline points="729.6,396.5 729.6,402 766.4,402 766.4,512.1 729.6,512.1 729.6,507.6"/>
</g>
<g stroke="#000">
<polyline points="157.2,91 157.2,48.8 293.4,48.8 293.4,254 374.4,254 374.4,230.5"/>
<polyline points="307.8,107 229.2,107 229.2,247.7 72.4,247.7 72.4,339.5"/>
<polyline points="431.6,107 503.9,107 503.9,131"/>
<polyline points="504.2,266 504.2,275.8 282.7,275.8 282.7,345"/>
<polyline points="122.8,352 122.8,330.3 313.6,330.3 313.6,345"/>
<polyline points="336.5,345 336.5,329.5 594.8,329.5 594.8,509.4 679.2,509.4 679.2,504.6"/>
<polyline points="594.8,398.1 679.2,398.1 679.2,393.2"/>
<polyline points="518.5,562.1 562.6,562.1 562.6,422.6 539.7,422.6" stroke="#141414" stroke-width="2.6"/>
</g>
<g stroke="#009a44">
<polyline points="129.1,345.5 129.1,309.7 305.8,309.7 305.8,345"/>
<polyline points="129,351.7 132.4,351.7 132.4,312.9 298.1,312.9 298.1,345"/>
<polyline points="135.9,345.5 135.9,316.2 290.4,316.2 290.4,345"/>
<polyline points="135.9,351.7 139.2,351.7 139.2,319.5 294.4,319.5 294.4,352.3 290.3,352.3"/>
</g>
<g stroke="#1e2290">
<polyline points="142.5,345.5 142.5,322.6 286.9,322.6 286.9,352.3 282.7,352.3"/>
<polyline points="142.5,351.7 145.5,351.7 145.5,325.9 279.2,325.9 279.2,352.3 274.8,352.3"/>
<polyline points="405.8,352.3 409.7,352.3 409.7,318.1 608,318.1 608,499.1 679.2,499.1 679.2,494"/>
<polyline points="413.8,345 413.8,321.6 603.8,321.6 603.8,387.8 679.2,387.8 679.2,382.7"/>
</g>
</g>
<g id="tabs" fill="#ef8a55">
<rect x="51.2" y="526.9" width="4.6" height="8.5"/><rect x="83.7" y="526.9" width="4.6" height="8.5"/>
<rect x="129.6" y="526.9" width="4.6" height="8.5"/><rect x="162.8" y="526.9" width="4.6" height="8.5"/>
</g>
<g fill="#fbe0d0"><rect x="52.8" y="529" width="1.4" height="2.6"/><rect x="85.3" y="529" width="1.4" height="2.6"/><rect x="131.2" y="529" width="1.4" height="2.6"/><rect x="164.4" y="529" width="1.4" height="2.6"/></g>
</svg>
</body></html>
